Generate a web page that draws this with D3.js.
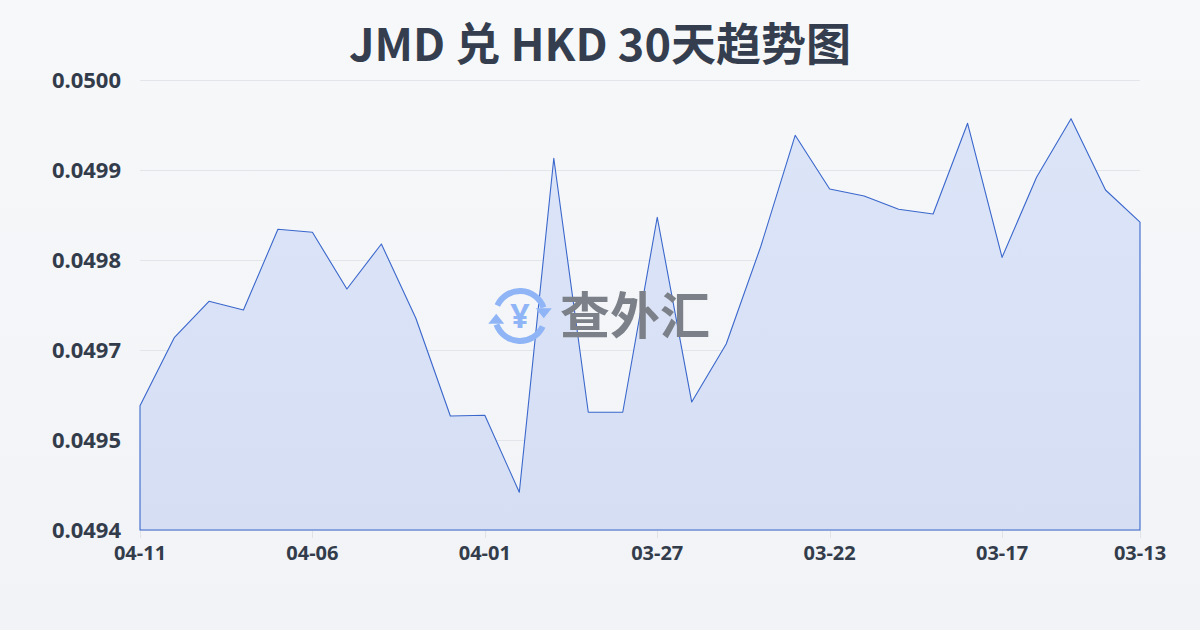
<!DOCTYPE html>
<html><head><meta charset="utf-8">
<script src="https://cdn.jsdelivr.net/npm/d3@7/dist/d3.min.js"></script>
<style>
html,body{margin:0;padding:0;}
body{width:1200px;height:630px;overflow:hidden;}
svg text{font-family:"Noto Sans","Noto Sans CJK SC",sans-serif;}
</style></head>
<body>
<svg id="chart" width="1200" height="630"></svg>
<script>
const title = "JMD 兑 HKD 30天趋势图";
const dates = ["04-11","04-10","04-09","04-08","04-07","04-06","04-05","04-04","04-03","04-02","04-01",
  "03-31","03-30","03-29","03-28","03-27","03-26","03-25","03-24","03-23","03-22","03-21","03-20","03-19",
  "03-18","03-17","03-16","03-15","03-14","03-13"];
const rates = [0.0495831,0.0496707,0.0497167,0.0497056,0.0498089,0.0498051,0.0497325,0.0497901,0.0496950,
  0.0495699,0.0495708,0.0494723,0.0498998,0.0495747,0.0495747,0.0498243,0.0495878,0.0496621,0.0497866,
  0.0499292,0.0498605,0.0498515,0.0498345,0.0498285,0.0499446,0.0497730,0.0498755,0.0499505,0.0498592,0.0498182];
const xTickLabels = ["04-11","04-06","04-01","03-27","03-22","03-17","03-13"];
const yDomain = [0.049424, 0.050000];
const yTickCount = 6;

const svg = d3.select("#chart");
const defs = svg.append("defs");
const bg = defs.append("linearGradient").attr("id","bg").attr("x1",0).attr("y1",0).attr("x2",0).attr("y2",1);
bg.append("stop").attr("offset","0%").attr("stop-color","#f7f8fa");
bg.append("stop").attr("offset","100%").attr("stop-color","#f1f3f6");
const ag = defs.append("linearGradient").attr("id","ag").attr("x1",0).attr("y1",0).attr("x2",0).attr("y2",1);
ag.append("stop").attr("offset","0%").attr("stop-color","#dce5f8");
ag.append("stop").attr("offset","100%").attr("stop-color","#d5def3");

svg.append("rect").attr("width",1200).attr("height",630).attr("fill","url(#bg)");

const L=140,R=1140,T=80,B=530;
const x = d3.scalePoint().domain(dates).range([L,R]);
const y = d3.scaleLinear().domain(yDomain).range([B,T]);
const yTicks = d3.range(yTickCount).map(i => yDomain[0] + i*(yDomain[1]-yDomain[0])/(yTickCount-1));

// grid
svg.append("g").selectAll("line").data(yTicks).join("line")
  .attr("x1",L).attr("x2",R).attr("y1",d=>Math.round(y(d))+0.5).attr("y2",d=>Math.round(y(d))+0.5)
  .attr("stroke","#e2e5ea").attr("stroke-width",1);

// y labels
svg.append("g").selectAll("text").data(yTicks).join("text")
  .attr("x",121).attr("y",d=>y(d)).attr("dy","0.36em").attr("text-anchor","end")
  .attr("font-size",22).attr("font-weight",700).attr("fill","#333c4b")
  .text(d=>d.toFixed(4));

// x ticks
svg.append("g").selectAll("line").data(xTickLabels).join("line")
  .attr("x1",d=>Math.round(x(d))+0.5).attr("x2",d=>Math.round(x(d))+0.5).attr("y1",B).attr("y2",B+8)
  .attr("stroke","#dfe2e7");
svg.append("g").selectAll("text").data(xTickLabels).join("text")
  .attr("x",d=>x(d)).attr("y",560).attr("text-anchor","middle")
  .attr("font-size",20).attr("font-weight",700).attr("fill","#333c4b")
  .text(d=>d);

// area
const data = dates.map((d,i)=>({d, v:rates[i]}));
const area = d3.area().x(p=>x(p.d)).y0(B).y1(p=>y(p.v));
svg.append("path").datum(data).attr("d",area)
  .attr("fill","url(#ag)").attr("stroke","#3a67cc").attr("stroke-width",1.1).attr("stroke-linejoin","round");

// watermark
const wm = svg.append("g");
const cx=520, cy=316, r=25, wc="#8fb5f7";
const deg = a => a*Math.PI/180;
wm.append("path").attr("d", d3.arc()({innerRadius:r-3,outerRadius:r+3,startAngle:deg(-65),endAngle:deg(70)}))
  .attr("transform",`translate(${cx},${cy})`).attr("fill",wc);
wm.append("path").attr("d", d3.arc()({innerRadius:r-3,outerRadius:r+3,startAngle:deg(115),endAngle:deg(250)}))
  .attr("transform",`translate(${cx},${cy})`).attr("fill",wc);
// arrowheads
const ah = (ang, dir) => {
  const px = cx + r*Math.sin(deg(ang)), py = cy - r*Math.cos(deg(ang));
  return `M${px-8},${py} L${px+8},${py} L${px},${py+dir*10} Z`;
};
wm.append("path").attr("d",ah(72,1)).attr("fill",wc);
wm.append("path").attr("d",ah(252,-1)).attr("fill",wc);
wm.append("text").attr("x",cx).attr("y",cy).attr("dy","0.36em").attr("text-anchor","middle")
  .attr("font-size",34).attr("font-weight",700).attr("fill",wc).text("¥");
wm.append("text").attr("x",560).attr("y",cy).attr("dy","0.36em")
  .attr("font-size",50).attr("font-weight",700).attr("fill","#7c8089")
  .style("font-family","'Noto Sans CJK SC',sans-serif").text("查外汇");

// title
svg.append("text").attr("x",600).attr("y",61).attr("text-anchor","middle")
  .attr("font-size",45).attr("font-weight",700).attr("fill","#353e4e")
  .style("font-family","'Noto Sans CJK SC','Noto Sans',sans-serif")
  .text(title);
</script>
</body></html>
